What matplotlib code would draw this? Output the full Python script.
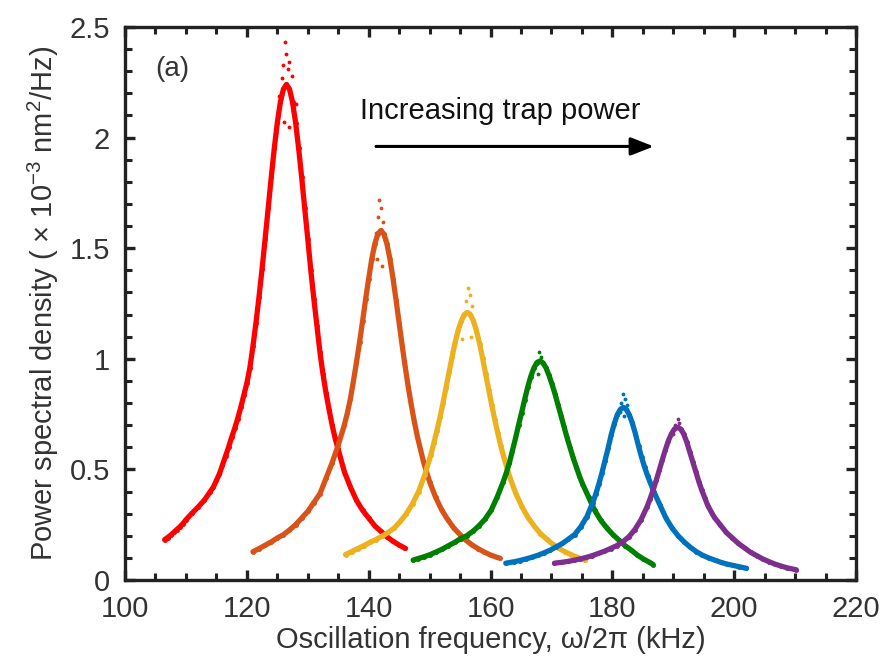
import matplotlib

matplotlib.use("Agg")
import matplotlib.pyplot as plt
from matplotlib.ticker import MultipleLocator

plt.rcParams["font.family"] = ["Liberation Sans", "DejaVu Sans"]
plt.rcParams["mathtext.fontset"] = "custom"
plt.rcParams["mathtext.rm"] = "Liberation Sans"
plt.rcParams["mathtext.it"] = "Liberation Sans:italic"

# Measured spectra (kHz, 1e-3 nm^2/Hz), one trace per trap power
red_f = [106.5, 107, 107.5, 108, 108.5, 109, 109.5, 110, 111, 112, 113, 114, 114.5, 115, 115.5, 116,
         116.5, 117, 117.5, 118, 118.5, 119, 119.5, 120, 120.5, 121, 121.5, 122, 122.5, 123, 123.5,
         124, 124.5, 125, 125.5, 126, 126.5, 127, 127.5, 128, 128.5, 129, 129.5, 130, 130.5, 131,
         131.5, 132, 132.5, 133, 133.5, 134, 134.5, 135, 136, 137, 138, 139, 140, 141, 142, 143,
         144, 145, 146]
red_p = [0.182, 0.192, 0.203, 0.215, 0.228, 0.24, 0.255, 0.272, 0.302, 0.33, 0.36, 0.40, 0.42, 0.45,
         0.48, 0.52, 0.56, 0.60, 0.645, 0.685, 0.73, 0.78, 0.835, 0.89, 0.96, 1.057, 1.164, 1.281,
         1.407, 1.542, 1.68, 1.82, 1.951, 2.068, 2.16, 2.219, 2.24, 2.219, 2.16, 2.068, 1.951, 1.82,
         1.68, 1.542, 1.40, 1.27, 1.15, 1.03, 0.93, 0.845, 0.77, 0.70, 0.64, 0.59, 0.49, 0.42, 0.36,
         0.315, 0.28, 0.245, 0.22, 0.195, 0.175, 0.158, 0.143]

orange_f = [121, 122, 123, 124, 125, 126, 127, 128, 129, 130, 131, 132, 133, 134, 135, 136, 136.5,
            137, 137.5, 138, 138.5, 139, 139.5, 140, 140.5, 141, 141.5, 142, 142.5, 143, 143.5, 144,
            144.5, 145, 145.5, 146, 146.5, 147, 147.5, 148, 149, 150, 151, 152, 153, 154, 155, 156,
            157, 158, 159, 160, 161, 161.5]
orange_p = [0.128, 0.142, 0.157, 0.172, 0.19, 0.205, 0.226, 0.25, 0.28, 0.31, 0.35, 0.39, 0.46, 0.53,
            0.61, 0.70, 0.755, 0.82, 0.90, 0.985, 1.075, 1.17, 1.27, 1.362, 1.45, 1.519, 1.564, 1.58,
            1.564, 1.519, 1.45, 1.362, 1.264, 1.162, 1.06, 0.963, 0.872, 0.79, 0.715, 0.648, 0.534,
            0.444, 0.373, 0.316, 0.272, 0.234, 0.205, 0.179, 0.158, 0.141, 0.126, 0.113, 0.103, 0.099]

yellow_f = [136.2, 137.2, 138.2, 139.2, 140.2, 141.2, 142.2, 143.2, 144.2, 145.2, 146.2, 147.2, 148.2,
            149.2, 150.2, 150.7, 151.2, 151.7, 152.2, 152.7, 153.2, 153.7, 154.2, 154.7, 155.2, 155.7,
            156.2, 156.7, 157.2, 157.7, 158.2, 158.7, 159.2, 159.7, 160.2, 160.7, 161.2, 161.7, 162.2,
            163.2, 164.2, 165.2, 166.2, 167.2, 168.2, 169.2, 170.2, 171.2, 172.2, 173.2, 174.2, 175.5]
yellow_p = [0.115, 0.128, 0.142, 0.155, 0.17, 0.183, 0.198, 0.215, 0.235, 0.265, 0.30, 0.345, 0.40,
            0.475, 0.565, 0.62, 0.675, 0.735, 0.80, 0.87, 0.94, 1.01, 1.075, 1.13, 1.171, 1.20, 1.21,
            1.20, 1.171, 1.126, 1.069, 1.003, 0.932, 0.861, 0.791, 0.725, 0.663, 0.605, 0.553, 0.462,
            0.388, 0.329, 0.281, 0.243, 0.21, 0.185, 0.162, 0.143, 0.128, 0.115, 0.103, 0.09]

green_f = [147.3, 148.1, 149.1, 150.1, 151.1, 152.1, 153.1, 154.1, 155.1, 156.1, 157.1, 158.1, 159.1,
           160.1, 161.1, 162.1, 162.6, 163.1, 163.6, 164.1, 164.6, 165.1, 165.6, 166.1, 166.6, 167.1,
           167.6, 168.1, 168.6, 169.1, 169.6, 170.1, 170.6, 171.1, 171.6, 172.1, 172.6, 173.1, 173.6,
           174.1, 174.6, 175.1, 176.1, 177.1, 178.1, 179.1, 180.1, 181.1, 182.1, 183.1, 184.1, 185.1,
           186.1, 186.7]
green_p = [0.09, 0.097, 0.105, 0.115, 0.127, 0.14, 0.155, 0.17, 0.187, 0.20, 0.22, 0.245, 0.275,
           0.315, 0.375, 0.445, 0.485, 0.53, 0.585, 0.64, 0.70, 0.756, 0.815, 0.871, 0.919, 0.957,
           0.982, 0.99, 0.982, 0.96, 0.925, 0.885, 0.84, 0.79, 0.74, 0.69, 0.64, 0.595, 0.55, 0.51,
           0.47, 0.435, 0.375, 0.315, 0.27, 0.235, 0.205, 0.18, 0.155, 0.135, 0.113, 0.095, 0.08, 0.07]

blue_f = [162.5, 163.8, 164.8, 165.8, 166.8, 167.8, 168.8, 169.8, 170.8, 171.8, 172.8, 173.8, 174.8,
          175.8, 176.8, 177.3, 177.8, 178.3, 178.8, 179.3, 179.8, 180.3, 180.8, 181.3, 181.8, 182.3,
          182.8, 183.3, 183.8, 184.3, 184.8, 185.3, 185.8, 186.3, 186.8, 187.8, 188.8, 189.8, 190.8,
          191.8, 192.8, 193.8, 194.8, 195.8, 196.8, 197.8, 198.8, 199.8, 200.8, 202]
blue_p = [0.076, 0.082, 0.088, 0.095, 0.103, 0.112, 0.123, 0.135, 0.15, 0.165, 0.185, 0.205, 0.24,
          0.285, 0.35, 0.39, 0.435, 0.485, 0.54, 0.595, 0.655, 0.705, 0.746, 0.771, 0.78, 0.771,
          0.746, 0.708, 0.66, 0.605, 0.555, 0.51, 0.47, 0.435, 0.40, 0.34, 0.28, 0.235, 0.20, 0.172,
          0.148, 0.128, 0.112, 0.10, 0.09, 0.08, 0.072, 0.066, 0.06, 0.053]

purple_f = [170.5, 171.7, 172.7, 173.7, 174.7, 175.7, 176.7, 177.7, 178.7, 179.7, 180.7, 181.7, 182.7,
            183.7, 184.7, 185.7, 186.2, 186.7, 187.2, 187.7, 188.2, 188.7, 189.2, 189.7, 190.2, 190.7,
            191.2, 191.7, 192.2, 192.7, 193.2, 193.7, 194.2, 194.7, 195.2, 195.7, 196.7, 197.7, 198.7,
            199.7, 200.7, 201.7, 202.7, 203.7, 204.7, 205.7, 206.7, 207.7, 208.7, 210.2]
purple_p = [0.076, 0.08, 0.084, 0.089, 0.095, 0.102, 0.11, 0.12, 0.13, 0.142, 0.155, 0.172, 0.195,
            0.228, 0.272, 0.331, 0.367, 0.407, 0.45, 0.496, 0.543, 0.588, 0.629, 0.661, 0.683, 0.69,
            0.683, 0.661, 0.625, 0.58, 0.535, 0.49, 0.445, 0.405, 0.37, 0.335, 0.285, 0.25, 0.215,
            0.19, 0.165, 0.145, 0.125, 0.11, 0.095, 0.083, 0.072, 0.063, 0.055, 0.046]

# Scattered samples around each resonance peak
red_peak_f = [126.3, 126.5, 126.0, 127.0, 126.8, 125.7, 127.4, 125.2, 128.0, 126.9, 126.1, 127.6, 124.8]
red_peak_p = [2.43, 2.38, 2.33, 2.34, 2.31, 2.27, 2.28, 2.19, 2.15, 2.05, 2.07, 2.12, 2.02]
orange_peak_f = [141.7, 142.0, 141.5, 142.4, 141.2, 142.8, 141.3, 142.2, 140.8, 143.1]
orange_peak_p = [1.72, 1.68, 1.64, 1.62, 1.57, 1.54, 1.45, 1.42, 1.50, 1.49]
yellow_peak_f = [156.3, 156.6, 156.0, 157.0, 155.7, 155.3, 157.6, 156.8]
yellow_peak_p = [1.32, 1.29, 1.26, 1.24, 1.20, 1.09, 1.14, 1.10]
green_peak_f = [168.0, 168.3, 167.6, 168.7, 167.8]
green_peak_p = [1.03, 1.01, 0.99, 0.97, 0.93]
blue_peak_f = [181.7, 182.1, 181.4, 182.4, 181.9, 181.2]
blue_peak_p = [0.84, 0.82, 0.80, 0.79, 0.74, 0.76]
purple_peak_f = [190.7, 191.0, 190.3, 191.4, 190.0]
purple_peak_p = [0.73, 0.71, 0.70, 0.68, 0.66]

traces = [
    (red_f, red_p, red_peak_f, red_peak_p, "#ff0000"),
    (orange_f, orange_p, orange_peak_f, orange_peak_p, "#d95319"),
    (yellow_f, yellow_p, yellow_peak_f, yellow_peak_p, "#edb120"),
    (green_f, green_p, green_peak_f, green_peak_p, "#008000"),
    (blue_f, blue_p, blue_peak_f, blue_peak_p, "#0072bd"),
    (purple_f, purple_p, purple_peak_f, purple_peak_p, "#7e2f8e"),
]

fig = plt.figure(figsize=(8.83, 6.63), dpi=100)
ax = fig.add_axes([0.1416, 0.1252, 0.8278, 0.8341])

for f, p, pf, pp, color in traces:
    ax.plot(f, p, color=color, lw=3.8, solid_capstyle="round", solid_joinstyle="round")
    ax.plot(f, p, ".", color=color, ms=5)
    ax.plot(pf, pp, ".", color=color, ms=3.5)

ax.set_xlim(100, 220)
ax.set_ylim(0, 2.5)
ax.xaxis.set_major_locator(MultipleLocator(20))
ax.xaxis.set_minor_locator(MultipleLocator(5))
ax.yaxis.set_minor_locator(MultipleLocator(0.1))
ax.set_yticks([0, 0.5, 1, 1.5, 2, 2.5])
ax.set_yticklabels(["0", "0.5", "1", "1.5", "2", "2.5"])

for side in ax.spines.values():
    side.set_linewidth(2.4)
    side.set_color("#222222")
ax.tick_params(which="both", direction="in", top=True, right=True,
               color="#222222", labelsize=21, labelcolor="#333333")
ax.tick_params(which="major", length=7, width=2.4)
ax.tick_params(which="minor", length=5, width=2.2)
ax.tick_params(axis="x", which="major", pad=11)
ax.tick_params(axis="y", which="major", pad=11)

ax.set_xlabel("Oscillation frequency, ω/2π (kHz)", fontsize=21, color="#333333", labelpad=2)
ax.set_ylabel(r"Power spectral density ( $\times$ 10$^{-3}$ nm$^{2}$/Hz)",
              fontsize=21, color="#333333", labelpad=6)

ax.text(104.9, 2.31, "(a)", fontsize=20, color="#333333", ha="left", va="center")
ax.text(138.6, 2.12, "Increasing trap power", fontsize=21, color="#111111",
        ha="left", va="center")
ax.annotate("", xy=(186.8, 1.96), xytext=(141.2, 1.96),
            arrowprops=dict(arrowstyle="-|>,head_length=1.4,head_width=0.55",
                            color="black", lw=2.2, shrinkA=0, shrinkB=0))

fig.savefig("out.png", dpi=100)
